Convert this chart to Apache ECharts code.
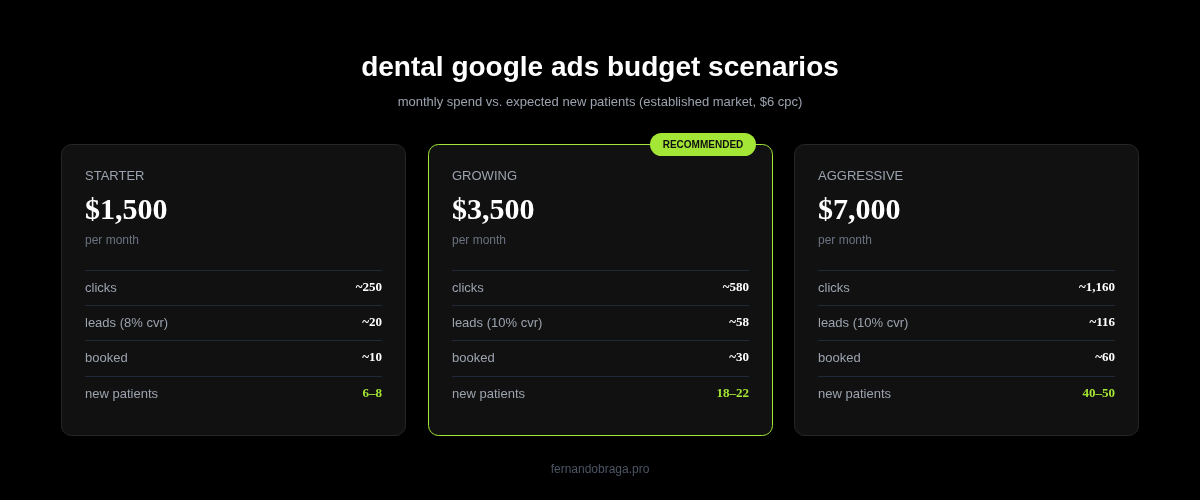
<!DOCTYPE html>
<html><head><meta charset="utf-8">
<script src="https://cdn.jsdelivr.net/npm/echarts@6/dist/echarts.min.js"></script>
<style>html,body{margin:0;background:#000;}#c{width:1200px;height:500px;}</style>
</head><body><div id="c"></div>
<script>
const tiers = ["STARTER", "GROWING", "AGGRESSIVE"];
const prices = ["$1,500", "$3,500", "$7,000"];
const leadLabels = ["leads (8% cvr)", "leads (10% cvr)", "leads (10% cvr)"];
const clicks = ["~250", "~580", "~1,160"];
const leads = ["~20", "~58", "~116"];
const booked = ["~10", "~30", "~60"];
const newPatients = ["6–8", "18–22", "40–50"];
const recommendedIndex = 1;

const chart = echarts.init(document.getElementById('c'));
const els = [];
const cardX = [61, 428, 794], cardW = 345, cardY = 144, cardH = 291;
const sans = '"Liberation Sans", Arial, sans-serif', serif = '"Liberation Serif", "Times New Roman", serif';
els.push({type:'text', x:600, y:68, style:{text:'dental google ads budget scenarios', font:'bold 28px '+sans, fill:'#fff', align:'center', verticalAlign:'middle'}});
els.push({type:'text', x:600, y:102, style:{text:'monthly spend vs. expected new patients (established market, $6 cpc)', font:'13px '+sans, fill:'#9ca3af', align:'center', verticalAlign:'middle'}});
els.push({type:'text', x:600, y:470, style:{text:'fernandobraga.pro', font:'12px '+sans, fill:'#4b5563', align:'center', verticalAlign:'middle'}});
tiers.forEach((t,i)=>{
  const x = cardX[i], rec = i===recommendedIndex;
  els.push({type:'rect', shape:{x:x+0.5, y:cardY+0.5, width:cardW-1, height:cardH, r:10}, style:{fill:'#111111', stroke: rec?'#a3e635':'#262626', lineWidth:1}});
  const lx = x+24, rx = x+cardW-24;
  els.push({type:'text', x:lx, y:176, style:{text:t, font:'13px '+sans, fill:'#9ca3af', verticalAlign:'middle'}, z:2});
  els.push({type:'text', x:lx, y:211, style:{text:prices[i], font:'bold 30px '+serif, fill:'#fff', verticalAlign:'middle'}, z:2});
  els.push({type:'text', x:lx, y:241, style:{text:'per month', font:'12px '+sans, fill:'#6b7280', verticalAlign:'middle'}, z:2});
  [270,305,340,376].forEach(y=>els.push({type:'line', shape:{x1:lx, y1:y+0.5, x2:rx, y2:y+0.5}, style:{stroke:'#1f2937', lineWidth:1}, z:2}));
  const rows = [['clicks', clicks[i]], [leadLabels[i], leads[i]], ['booked', booked[i]], ['new patients', newPatients[i]]];
  const ys = [288, 323, 358, 394];
  rows.forEach((r,k)=>{
    els.push({type:'text', x:lx, y:ys[k], style:{text:r[0], font:'13px '+sans, fill:'#9ca3af', verticalAlign:'middle'}, z:2});
    els.push({type:'text', x:rx, y:ys[k], style:{text:r[1], font:'bold 13px '+serif, fill: k===3?'#a3e635':'#fff', align:'right', verticalAlign:'middle'}, z:2});
  });
  if (rec) {
    els.push({type:'rect', shape:{x:650, y:133, width:106, height:23, r:11.5}, style:{fill:'#a3e635'}, z:3});
    els.push({type:'text', x:703, y:145, style:{text:'RECOMMENDED', font:'bold 10px '+sans, fill:'#111', align:'center', verticalAlign:'middle'}, z:4});
  }
});
chart.setOption({backgroundColor:'#000', graphic:{elements:els}});
</script></body></html>
